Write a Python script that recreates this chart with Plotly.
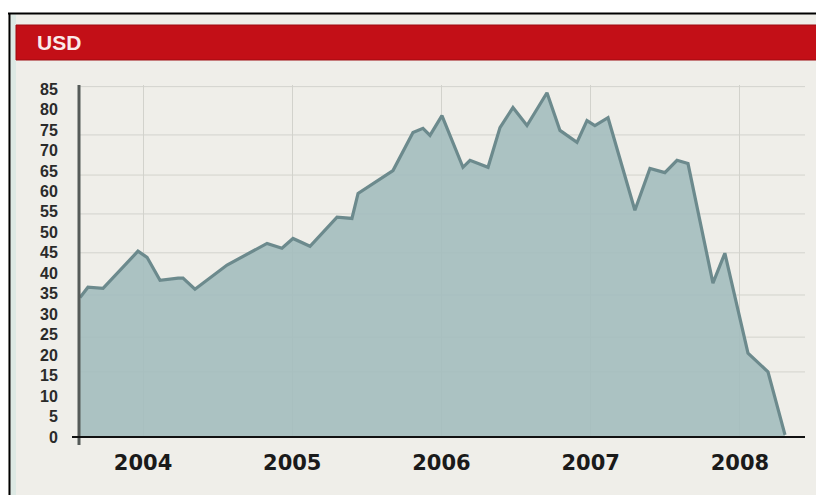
import plotly.graph_objects as go

# ---- data ----
years = [2003.578, 2003.631, 2003.732, 2003.966, 2004.027, 2004.114, 2004.235, 2004.268,
         2004.348, 2004.563, 2004.831, 2004.931, 2005.005, 2005.119, 2005.300, 2005.400,
         2005.441, 2005.675, 2005.809, 2005.876, 2005.923, 2006.003, 2006.144, 2006.191,
         2006.312, 2006.392, 2006.479, 2006.573, 2006.707, 2006.794, 2006.908, 2006.975,
         2007.028, 2007.116, 2007.296, 2007.397, 2007.497, 2007.578, 2007.652, 2007.819,
         2007.899, 2008.054, 2008.188, 2008.302]
usd = [34.1, 36.6, 36.3, 45.4, 43.9, 38.3, 38.8, 38.8,
       36.1, 42.0, 47.3, 46.1, 48.5, 46.6, 53.7, 53.4,
       59.5, 65.1, 74.4, 75.4, 73.7, 78.5, 65.9, 67.6,
       65.9, 75.6, 80.5, 76.1, 84.1, 74.9, 72.0, 77.3,
       76.1, 78.0, 55.4, 65.6, 64.6, 67.6, 66.8, 37.6,
       44.9, 20.5, 15.9, 0.5]
year_ticks = [2004, 2005, 2006, 2007, 2008]
year_labels = ["2004", "2005", "2006", "2007", "2008"]
y_ticks = list(range(0, 90, 5))
title_text = "USD"

# ---- layout geometry (page has an 8px body margin) ----
OFF = 8
W, H = 824, 495
PLOT_L, PLOT_R, PLOT_T, PLOT_B = 79, 805, 85, 437   # in page pixels
L = PLOT_L - OFF
T = PLOT_T - OFF
R = W - (PLOT_R - OFF)
B = H - (PLOT_B - OFF)
PW, PH = W - L - R, H - T - B

def px(x):
    return (x - OFF - L) / PW

def py(y):
    return (H - B - (y - OFF)) / PH

BG = "#efeee9"

fig = go.Figure()
fig.add_trace(go.Scatter(
    x=years, y=usd, mode="lines",
    line=dict(color="#6c8a8d", width=3.2),
    fill="tozeroy", fillcolor="rgba(163,188,190,0.9)",
    hoverinfo="x+y", showlegend=False))

shapes = []
# white outer margins and black frame
shapes.append(dict(type="rect", xref="paper", yref="paper", x0=px(0), x1=px(W + 20), y0=py(13), y1=py(0),
                   fillcolor="white", line_width=0, layer="below"))
shapes.append(dict(type="line", xref="paper", yref="paper", x0=px(8), x1=px(W + 20), y0=py(13.5), y1=py(13.5),
                   line=dict(color="black", width=2)))
shapes.append(dict(type="line", xref="paper", yref="paper", x0=px(9.5), x1=px(9.5), y0=py(13), y1=py(H + 20),
                   line=dict(color="black", width=2)))
# light teal inner edges
shapes.append(dict(type="rect", xref="paper", yref="paper", x0=px(10.5), x1=px(16), y0=py(H + 20), y1=py(14.5),
                   fillcolor="#dde9e4", line_width=0, layer="below"))
shapes.append(dict(type="rect", xref="paper", yref="paper", x0=px(818), x1=px(W + 20), y0=py(H + 20), y1=py(14.5),
                   fillcolor="#dde9e4", line_width=0, layer="below"))
# red header bar
shapes.append(dict(type="rect", xref="paper", yref="paper", x0=px(16), x1=px(820), y0=py(60), y1=py(25),
                   fillcolor="#c30f17", line=dict(color="#9e0b10", width=1)))
# horizontal grid lines
for gv in [15.9, 24.4, 34.7, 45.0, 54.5, 64.0, 73.8, 85.6]:
    shapes.append(dict(type="line", xref="paper", yref="y", x0=0, x1=1, y0=gv, y1=gv,
                       line=dict(color="#d3d3cd", width=1), layer="below"))
# axis lines
shapes.append(dict(type="line", xref="paper", yref="paper", x0=px(79), x1=px(79), y0=py(445), y1=py(85),
                   line=dict(color="#555a58", width=3)))
shapes.append(dict(type="line", xref="paper", yref="paper", x0=px(72), x1=px(805), y0=py(437), y1=py(437),
                   line=dict(color="#111", width=2)))

fig.update_layout(
    width=W, height=H,
    margin=dict(l=L, r=R, t=T, b=B),
    paper_bgcolor=BG, plot_bgcolor=BG,
    shapes=shapes,
    annotations=[dict(text="<b>" + title_text + "</b>", xref="paper", yref="paper",
                      x=px(35), y=py(42.5), xanchor="left", yanchor="middle", showarrow=False,
                      font=dict(family="Liberation Sans, Arial", size=21, color="#fbeaea"))],
    xaxis=dict(range=[2003.571, 2008.436], tickvals=year_ticks,
               ticktext=["<b>" + t + "</b>" for t in year_labels],
               showgrid=True, gridcolor="#d2d2cc", gridwidth=1, zeroline=False, showline=False,
               ticks="outside", ticklen=7, tickcolor="rgba(0,0,0,0)",
               tickfont=dict(family="DejaVu Sans", size=21, color="#1a1a1a")),
    yaxis=dict(range=[0, 86], tickvals=y_ticks,
               ticktext=["<b>" + str(v) + "</b>" for v in y_ticks],
               showgrid=False, zeroline=False, showline=False,
               ticks="outside", ticklen=17, tickcolor="rgba(0,0,0,0)",
               tickfont=dict(family="Liberation Sans, Arial", size=16, color="#2a2a2a")),
)

fig.write_html("out.html")
